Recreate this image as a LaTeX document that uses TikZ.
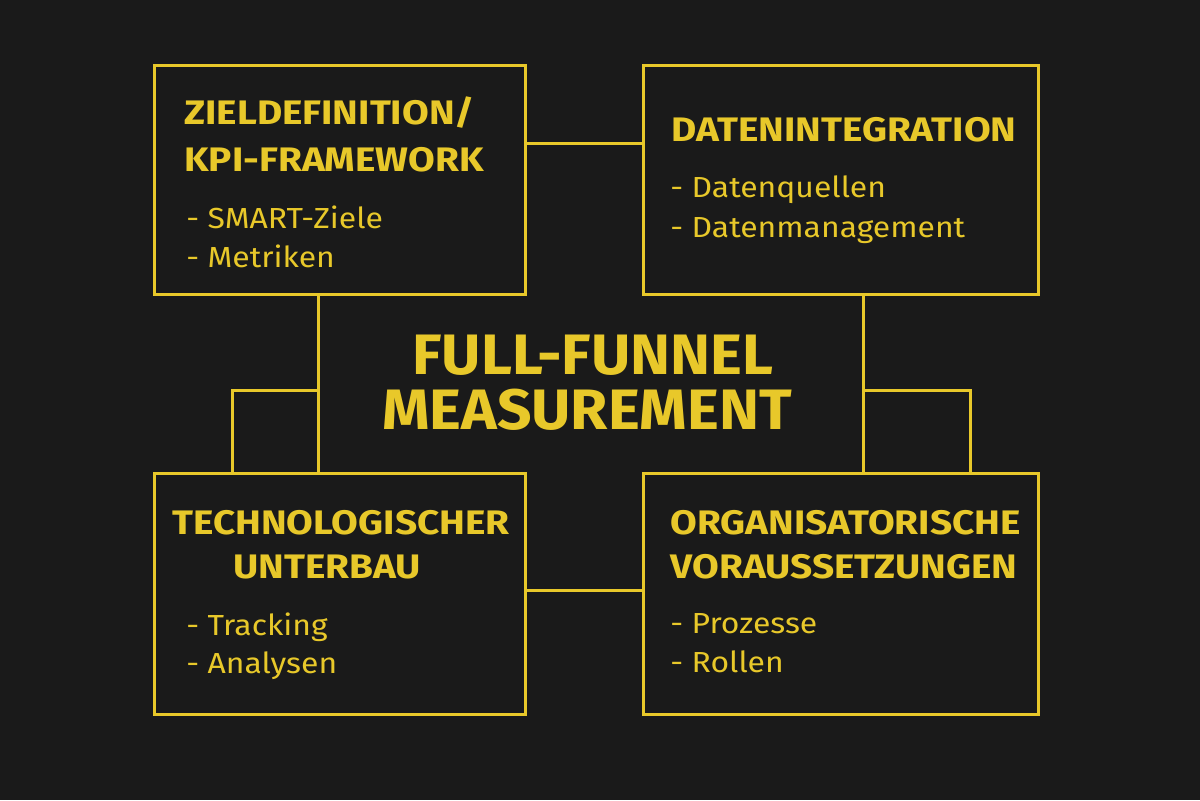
\documentclass[tikz,border=0pt]{standalone}
\usepackage{fontspec}
\setmainfont{Fira Sans}
\newfontfamily\wideT[FakeStretch=1.14]{Fira Sans}
\newfontfamily\wideI[FakeStretch=1.1]{Fira Sans}
\newfontfamily\wideC[FakeStretch=1.06]{Fira Sans}
\definecolor{bg}{HTML}{1A1A1A}
\definecolor{yl}{HTML}{E8C82A}
\begin{document}
\begin{tikzpicture}[x=0.5pt,y=-0.5pt,
  box/.style={draw=yl,line width=1.5pt},
  ttl/.style={text=yl,font=\wideT\fontsize{17}{20}\selectfont\bfseries,inner sep=0pt},
  itm/.style={text=yl,font=\wideI\fontsize{14.5}{17}\selectfont,anchor=west,inner sep=0pt},
  cen/.style={text=yl,font=\wideC\fontsize{28.5}{32}\selectfont\bfseries,inner sep=0pt},
  ln/.style={draw=yl,line width=1.5pt}]
\fill[bg] (0,0) rectangle (1200,800);
\useasboundingbox (0,0) rectangle (1200,800);
% boxes
\draw[box] (154,65) rectangle (525,294);
\draw[box] (643,65) rectangle (1038,294);
\draw[box] (154,473) rectangle (525,714);
\draw[box] (643,473) rectangle (1038,714);
\coordinate (tlr) at (525,143); \coordinate (trl) at (643,143);
\coordinate (blr) at (525,590); \coordinate (brl) at (643,590);
\coordinate (tlb) at (318,294); \coordinate (blt) at (318,473);
\coordinate (bl2) at (232,473); \coordinate (trb) at (863,294);
\coordinate (brt) at (863,473); \coordinate (br2) at (970,473);
\draw[ln] (tlr) -- (trl);
\draw[ln] (blr) -- (brl);
\draw[ln] (tlb) -- (blt);
\draw[ln] (bl2) |- (318,390);
\draw[ln] (trb) -- (brt);
\draw[ln] (br2) |- (863,390);
% texts
\node[ttl,anchor=west] (t1a) at (184,113) {ZIELDEFINITION/};
\node[ttl,anchor=west] (t1b) at (184,160) {KPI-FRAMEWORK};
\node[itm] (i1a) at (186,217) {- SMART-Ziele};
\node[itm] (i1b) at (186,256) {- Metriken};
\node[ttl] (t2) at (844,130) {DATENINTEGRATION};
\node[itm] (i2a) at (670,190) {- Datenquellen};
\node[itm] (i2b) at (670,231) {- Datenmanagement};
\node[ttl] (t3a) at (341,523) {TECHNOLOGISCHER};
\node[ttl] (t3b) at (327,567) {UNTERBAU};
\node[itm] (i3a) at (186,627) {- Tracking};
\node[itm] (i3b) at (186,666) {- Analysen};
\node[ttl,anchor=west] (t4a) at (670,523) {ORGANISATORISCHE};
\node[ttl,anchor=west] (t4b) at (670,567) {VORAUSSETZUNGEN};
\node[itm] (i4a) at (670,624) {- Prozesse};
\node[itm] (i4b) at (670,662) {- Rollen};
\node[cen] (c1) at (593,355) {FULL-FUNNEL};
\node[cen] (c2) at (587,410) {MEASUREMENT};
\end{tikzpicture}
\end{document}
